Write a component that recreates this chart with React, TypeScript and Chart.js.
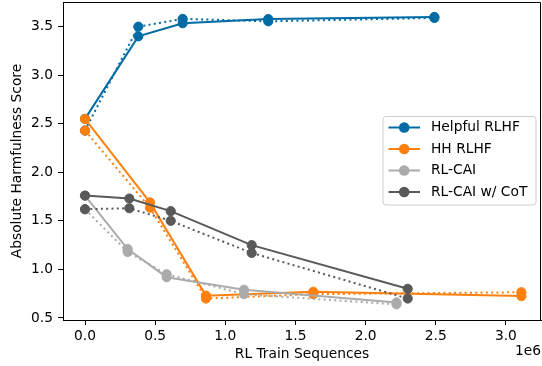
import { useEffect, useRef } from "react";
import { Chart, registerables } from "chart.js";

Chart.register(...registerables);

// ---- data ----
const seriesNames = ["Helpful RLHF", "HH RLHF", "RL-CAI", "RL-CAI w/ CoT"];
const seriesColors = ["#006BA4", "#FF800E", "#ABABAB", "#595959"];

const helpfulX = [0, 0.38e6, 0.696e6, 1.306e6, 2.49e6];
const helpfulSolid = [2.55, 3.40, 3.535, 3.578, 3.60];
const helpfulDotted = [2.43, 3.50, 3.58, 3.555, 3.59];

const hhX = [0, 0.463e6, 0.862e6, 1.627e6, 3.11e6];
const hhSolid = [2.55, 1.69, 0.73, 0.77, 0.725];
const hhDotted = [2.43, 1.635, 0.70, 0.745, 0.765];

const caiX = [0, 0.304e6, 0.582e6, 1.133e6, 2.22e6];
const caiSolid = [1.76, 1.21, 0.92, 0.79, 0.66];
const caiDotted = [1.62, 1.18, 0.95, 0.745, 0.64];

const cotX = [0, 0.316e6, 0.611e6, 1.188e6, 2.30e6];
const cotSolid = [1.76, 1.73, 1.60, 1.25, 0.80];
const cotDotted = [1.62, 1.63, 1.50, 1.17, 0.70];

const xTicks = [0, 0.5e6, 1.0e6, 1.5e6, 2.0e6, 2.5e6, 3.0e6];
const yTicks = [0.5, 1.0, 1.5, 2.0, 2.5, 3.0, 3.5];

const X_MIN = -0.1568e6;
const X_MAX = 3.25e6;
const Y_MIN = 0.479;
const Y_MAX = 3.754;

const FONT_FAMILY = "'DejaVu Sans', sans-serif";
const FS = 13.8;

const framePlugin = {
  id: "frameAndLegend",
  afterDraw(chart: any) {
    const { ctx, chartArea } = chart;
    const { left, right, top, bottom } = chartArea;
    ctx.save();
    // top & right spines
    ctx.strokeStyle = "#000";
    ctx.lineWidth = 1;
    ctx.beginPath();
    ctx.moveTo(Math.round(left) + 0.5, Math.round(top) + 0.5);
    ctx.lineTo(Math.round(right) - 0.5, Math.round(top) + 0.5);
    ctx.lineTo(Math.round(right) - 0.5, Math.round(bottom) + 0.5);
    ctx.stroke();

    // offset text
    ctx.fillStyle = "#000";
    ctx.font = `${FS}px ${FONT_FAMILY}`;
    ctx.textAlign = "right";
    ctx.textBaseline = "middle";
    ctx.fillText("1e6", 541, 351.7);

    // legend
    const bx = 383, by = 116.5, bw = 153, bh = 88.5, r = 3;
    ctx.beginPath();
    ctx.moveTo(bx + r, by);
    ctx.lineTo(bx + bw - r, by);
    ctx.arcTo(bx + bw, by, bx + bw, by + r, r);
    ctx.lineTo(bx + bw, by + bh - r);
    ctx.arcTo(bx + bw, by + bh, bx + bw - r, by + bh, r);
    ctx.lineTo(bx + r, by + bh);
    ctx.arcTo(bx, by + bh, bx, by + bh - r, r);
    ctx.lineTo(bx, by + r);
    ctx.arcTo(bx, by, bx + r, by, r);
    ctx.closePath();
    ctx.fillStyle = "rgba(255,255,255,0.8)";
    ctx.fill();
    ctx.strokeStyle = "#cccccc";
    ctx.lineWidth = 1;
    ctx.stroke();

    const rows = [127.5, 149, 170.5, 192];
    seriesNames.forEach((name, i) => {
      const y = rows[i];
      ctx.strokeStyle = seriesColors[i];
      ctx.lineWidth = 2;
      ctx.setLineDash([]);
      ctx.beginPath();
      ctx.moveTo(388.5, y);
      ctx.lineTo(420, y);
      ctx.stroke();
      ctx.fillStyle = seriesColors[i];
      ctx.beginPath();
      ctx.arc(404.2, y, 5.3, 0, Math.PI * 2);
      ctx.fill();
      ctx.fillStyle = "#000";
      ctx.textAlign = "left";
      ctx.textBaseline = "middle";
      ctx.fillText(name, 431, y);
    });
    ctx.restore();
  },
};

export default function App() {
  const ref = useRef<HTMLCanvasElement>(null);

  useEffect(() => {
    document.body.style.margin = "0";
    const groups = [
      { x: helpfulX, solid: helpfulSolid, dotted: helpfulDotted },
      { x: hhX, solid: hhSolid, dotted: hhDotted },
      { x: caiX, solid: caiSolid, dotted: caiDotted },
      { x: cotX, solid: cotSolid, dotted: cotDotted },
    ];
    const datasets: any[] = [];
    groups.forEach((g, i) => {
      [g.solid, g.dotted].forEach((ys, k) => {
        datasets.push({
          label: seriesNames[i] + (k ? " (dotted)" : ""),
          data: g.x.map((x, j) => ({ x, y: ys[j] })),
          borderColor: seriesColors[i],
          backgroundColor: seriesColors[i],
          pointBackgroundColor: seriesColors[i],
          pointBorderColor: seriesColors[i],
          pointRadius: 4.6,
          pointHoverRadius: 4.6,
          pointBorderWidth: 1,
          borderWidth: 2,
          borderDash: k ? [2, 3.3] : [],
          borderCapStyle: "butt",
          tension: 0,
          fill: false,
          order: 100 - datasets.length,
        });
      });
    });

    const tickFont = { family: FONT_FAMILY, size: FS };
    const chart = new Chart(ref.current!, {
      type: "line",
      data: { datasets },
      options: {
        responsive: false,
        animation: false,
        events: [],
        layout: { autoPadding: false, padding: { top: 2, right: 1, left: 0, bottom: 0 } },
        plugins: { legend: { display: false }, tooltip: { enabled: false } },
        scales: {
          x: {
            type: "linear",
            min: X_MIN,
            max: X_MAX,
            afterBuildTicks: (s: any) => {
              s.ticks = xTicks.map((v) => ({ value: v }));
            },
            afterFit: (s: any) => {
              s.height = 46;
              s.paddingLeft = 0;
              s.paddingRight = 0;
              s.paddingTop = 0;
              s.paddingBottom = 0;
            },
            ticks: {
              callback: (v: any) => (Number(v) / 1e6).toFixed(1),
              font: tickFont,
              color: "#000",
              padding: 3,
              maxRotation: 0,
              autoSkip: false,
            },
            grid: {
              display: true,
              drawOnChartArea: false,
              drawTicks: true,
              tickLength: 5,
              color: "#000",
            },
            border: { display: true, color: "#000", width: 1 },
            title: {
              display: true,
              text: "RL Train Sequences",
              font: tickFont,
              color: "#000",
              padding: { top: 0, bottom: 3 },
            },
          },
          y: {
            type: "linear",
            min: Y_MIN,
            max: Y_MAX,
            afterBuildTicks: (s: any) => {
              s.ticks = yTicks.map((v) => ({ value: v }));
            },
            afterFit: (s: any) => {
              s.width = 63;
              s.paddingLeft = 0;
              s.paddingRight = 0;
              s.paddingTop = 0;
              s.paddingBottom = 0;
            },
            ticks: {
              callback: (v: any) => Number(v).toFixed(1),
              font: tickFont,
              color: "#000",
              padding: 5,
              autoSkip: false,
            },
            grid: {
              display: true,
              drawOnChartArea: false,
              drawTicks: true,
              tickLength: 5,
              color: "#000",
            },
            border: { display: true, color: "#000", width: 1 },
            title: {
              display: true,
              text: "Absolute Harmfulness Score",
              font: tickFont,
              color: "#000",
              padding: { top: 9, bottom: 0 },
            },
          },
        },
      },
      plugins: [framePlugin],
    });
    return () => chart.destroy();
  }, []);

  return (
    <div style={{ position: "fixed", left: 0, top: 0, width: 542, height: 366 }}>
      <canvas ref={ref} width={542} height={366} style={{ display: "block" }} />
    </div>
  );
}
